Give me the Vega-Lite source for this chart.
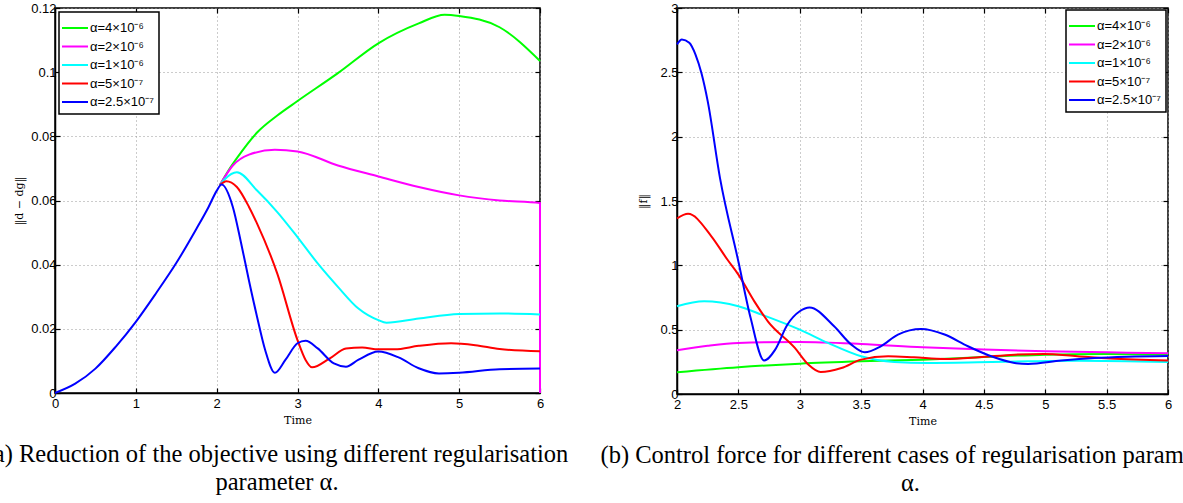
{
  "$schema": "https://vega.github.io/schema/vega-lite/v6.json",
  "background": "white",
  "padding": {"left": -16, "top": 1, "right": 0, "bottom": 0},
  "bounds": "flush",
  "spacing": 137,
  "config": {
    "view": {"stroke": "black", "strokeWidth": 1.5},
    "axis": {
      "domainColor": "black", "domainWidth": 1.5,
      "tickColor": "black", "tickSize": -5, "tickWidth": 1.2,
      "labelFont": "Liberation Sans", "labelFontSize": 13, "labelColor": "black", "labelPadding": 4, "labelFlush": false,
      "gridColor": "#999999", "gridDash": [1, 3], "gridOpacity": 1, "gridWidth": 1,
      "titleFont": "DejaVu Serif", "titleFontWeight": "normal", "titleFontSize": 11, "titleColor": "black", "titlePadding": 6
    },
    "axisX": {"labelPadding": 9, "titlePadding": 4},
    "legend": {
      "title": null, "strokeColor": "black", "strokeWidth": 1.5, "fillColor": "white", "padding": 5,
      "symbolType": "M-1.3,0L1.3,0", "symbolSize": 400, "symbolStrokeWidth": 2,
      "labelFont": "Liberation Sans", "labelFontSize": 13, "labelColor": "black", "rowPadding": 0.5, "labelOffset": 4
    },
    "title": {"font": "Liberation Serif", "fontSize": 24.5, "fontWeight": "normal", "color": "black", "lineHeight": 28, "baseline": "top"}
  },
  "datasets": {
    "a": [
      {"s": "α=4×10⁻⁶", "t": 2.04, "v": 0.0648},
      {"s": "α=4×10⁻⁶", "t": 2.15, "v": 0.0695},
      {"s": "α=4×10⁻⁶", "t": 2.25, "v": 0.0732},
      {"s": "α=4×10⁻⁶", "t": 2.5, "v": 0.0812},
      {"s": "α=4×10⁻⁶", "t": 2.75, "v": 0.0865},
      {"s": "α=4×10⁻⁶", "t": 3.0, "v": 0.0910},
      {"s": "α=4×10⁻⁶", "t": 3.5, "v": 0.0997},
      {"s": "α=4×10⁻⁶", "t": 4.0, "v": 0.1090},
      {"s": "α=4×10⁻⁶", "t": 4.5, "v": 0.1152},
      {"s": "α=4×10⁻⁶", "t": 4.82, "v": 0.1179},
      {"s": "α=4×10⁻⁶", "t": 5.0, "v": 0.1175},
      {"s": "α=4×10⁻⁶", "t": 5.5, "v": 0.1140},
      {"s": "α=4×10⁻⁶", "t": 6.0, "v": 0.1035},
      {"s": "α=2×10⁻⁶", "t": 2.04, "v": 0.0648},
      {"s": "α=2×10⁻⁶", "t": 2.2, "v": 0.0709},
      {"s": "α=2×10⁻⁶", "t": 2.4, "v": 0.0743},
      {"s": "α=2×10⁻⁶", "t": 2.72, "v": 0.0758},
      {"s": "α=2×10⁻⁶", "t": 3.0, "v": 0.0753},
      {"s": "α=2×10⁻⁶", "t": 3.5, "v": 0.0709},
      {"s": "α=2×10⁻⁶", "t": 4.0, "v": 0.0675},
      {"s": "α=2×10⁻⁶", "t": 4.5, "v": 0.0642},
      {"s": "α=2×10⁻⁶", "t": 5.0, "v": 0.0616},
      {"s": "α=2×10⁻⁶", "t": 5.5, "v": 0.0600},
      {"s": "α=2×10⁻⁶", "t": 6.0, "v": 0.0592},
      {"s": "α=2×10⁻⁶", "t": 6.0, "v": 0},
      {"s": "α=1×10⁻⁶", "t": 2.04, "v": 0.0648},
      {"s": "α=1×10⁻⁶", "t": 2.1, "v": 0.0666},
      {"s": "α=1×10⁻⁶", "t": 2.25, "v": 0.0688},
      {"s": "α=1×10⁻⁶", "t": 2.5, "v": 0.0631},
      {"s": "α=1×10⁻⁶", "t": 2.75, "v": 0.0564},
      {"s": "α=1×10⁻⁶", "t": 3.0, "v": 0.0486},
      {"s": "α=1×10⁻⁶", "t": 3.25, "v": 0.0404},
      {"s": "α=1×10⁻⁶", "t": 3.5, "v": 0.0331},
      {"s": "α=1×10⁻⁶", "t": 3.75, "v": 0.0264},
      {"s": "α=1×10⁻⁶", "t": 4.0, "v": 0.0227},
      {"s": "α=1×10⁻⁶", "t": 4.1, "v": 0.0219},
      {"s": "α=1×10⁻⁶", "t": 4.5, "v": 0.0232},
      {"s": "α=1×10⁻⁶", "t": 5.0, "v": 0.0246},
      {"s": "α=1×10⁻⁶", "t": 5.5, "v": 0.0248},
      {"s": "α=1×10⁻⁶", "t": 6.0, "v": 0.0245},
      {"s": "α=5×10⁻⁷", "t": 2.04, "v": 0.0648},
      {"s": "α=5×10⁻⁷", "t": 2.12, "v": 0.0660},
      {"s": "α=5×10⁻⁷", "t": 2.25, "v": 0.0642},
      {"s": "α=5×10⁻⁷", "t": 2.4, "v": 0.0580},
      {"s": "α=5×10⁻⁷", "t": 2.5, "v": 0.0528},
      {"s": "α=5×10⁻⁷", "t": 2.75, "v": 0.0372},
      {"s": "α=5×10⁻⁷", "t": 3.0, "v": 0.0165},
      {"s": "α=5×10⁻⁷", "t": 3.1, "v": 0.0103},
      {"s": "α=5×10⁻⁷", "t": 3.18, "v": 0.0080},
      {"s": "α=5×10⁻⁷", "t": 3.4, "v": 0.0108},
      {"s": "α=5×10⁻⁷", "t": 3.6, "v": 0.0139},
      {"s": "α=5×10⁻⁷", "t": 3.8, "v": 0.0142},
      {"s": "α=5×10⁻⁷", "t": 4.0, "v": 0.0136},
      {"s": "α=5×10⁻⁷", "t": 4.2, "v": 0.0136},
      {"s": "α=5×10⁻⁷", "t": 4.5, "v": 0.0147},
      {"s": "α=5×10⁻⁷", "t": 4.9, "v": 0.0155},
      {"s": "α=5×10⁻⁷", "t": 5.2, "v": 0.0149},
      {"s": "α=5×10⁻⁷", "t": 5.5, "v": 0.0137},
      {"s": "α=5×10⁻⁷", "t": 6.0, "v": 0.0130},
      {"s": "α=2.5×10⁻⁷", "t": 0.0, "v": 0.0},
      {"s": "α=2.5×10⁻⁷", "t": 0.25, "v": 0.0029},
      {"s": "α=2.5×10⁻⁷", "t": 0.5, "v": 0.0076},
      {"s": "α=2.5×10⁻⁷", "t": 0.75, "v": 0.0144},
      {"s": "α=2.5×10⁻⁷", "t": 1.0, "v": 0.0222},
      {"s": "α=2.5×10⁻⁷", "t": 1.25, "v": 0.0311},
      {"s": "α=2.5×10⁻⁷", "t": 1.5, "v": 0.0405},
      {"s": "α=2.5×10⁻⁷", "t": 1.75, "v": 0.0512},
      {"s": "α=2.5×10⁻⁷", "t": 1.9, "v": 0.0580},
      {"s": "α=2.5×10⁻⁷", "t": 2.0, "v": 0.0630},
      {"s": "α=2.5×10⁻⁷", "t": 2.06, "v": 0.0650},
      {"s": "α=2.5×10⁻⁷", "t": 2.2, "v": 0.0580},
      {"s": "α=2.5×10⁻⁷", "t": 2.3, "v": 0.0470},
      {"s": "α=2.5×10⁻⁷", "t": 2.4, "v": 0.0350},
      {"s": "α=2.5×10⁻⁷", "t": 2.5, "v": 0.0237},
      {"s": "α=2.5×10⁻⁷", "t": 2.6, "v": 0.0134},
      {"s": "α=2.5×10⁻⁷", "t": 2.72, "v": 0.0063},
      {"s": "α=2.5×10⁻⁷", "t": 2.85, "v": 0.0103},
      {"s": "α=2.5×10⁻⁷", "t": 3.0, "v": 0.0155},
      {"s": "α=2.5×10⁻⁷", "t": 3.1, "v": 0.0163},
      {"s": "α=2.5×10⁻⁷", "t": 3.25, "v": 0.0139},
      {"s": "α=2.5×10⁻⁷", "t": 3.45, "v": 0.0092},
      {"s": "α=2.5×10⁻⁷", "t": 3.6, "v": 0.0082},
      {"s": "α=2.5×10⁻⁷", "t": 3.75, "v": 0.0103},
      {"s": "α=2.5×10⁻⁷", "t": 4.0, "v": 0.0129},
      {"s": "α=2.5×10⁻⁷", "t": 4.25, "v": 0.0111},
      {"s": "α=2.5×10⁻⁷", "t": 4.5, "v": 0.0077},
      {"s": "α=2.5×10⁻⁷", "t": 4.75, "v": 0.0061},
      {"s": "α=2.5×10⁻⁷", "t": 5.0, "v": 0.0063},
      {"s": "α=2.5×10⁻⁷", "t": 5.5, "v": 0.0074},
      {"s": "α=2.5×10⁻⁷", "t": 6.0, "v": 0.0076}
    ],
    "b": [
      {"s": "α=4×10⁻⁶", "t": 2.0, "v": 0.169},
      {"s": "α=4×10⁻⁶", "t": 2.5, "v": 0.208},
      {"s": "α=4×10⁻⁶", "t": 3.0, "v": 0.236},
      {"s": "α=4×10⁻⁶", "t": 3.5, "v": 0.254},
      {"s": "α=4×10⁻⁶", "t": 4.0, "v": 0.267},
      {"s": "α=4×10⁻⁶", "t": 4.5, "v": 0.288},
      {"s": "α=4×10⁻⁶", "t": 5.0, "v": 0.306},
      {"s": "α=4×10⁻⁶", "t": 5.5, "v": 0.311},
      {"s": "α=4×10⁻⁶", "t": 6.0, "v": 0.306},
      {"s": "α=2×10⁻⁶", "t": 2.0, "v": 0.340},
      {"s": "α=2×10⁻⁶", "t": 2.25, "v": 0.375},
      {"s": "α=2×10⁻⁶", "t": 2.5, "v": 0.397},
      {"s": "α=2×10⁻⁶", "t": 3.0, "v": 0.404},
      {"s": "α=2×10⁻⁶", "t": 3.5, "v": 0.389},
      {"s": "α=2×10⁻⁶", "t": 4.0, "v": 0.363},
      {"s": "α=2×10⁻⁶", "t": 4.5, "v": 0.345},
      {"s": "α=2×10⁻⁶", "t": 5.0, "v": 0.332},
      {"s": "α=2×10⁻⁶", "t": 5.5, "v": 0.324},
      {"s": "α=2×10⁻⁶", "t": 6.0, "v": 0.317},
      {"s": "α=1×10⁻⁶", "t": 2.0, "v": 0.682},
      {"s": "α=1×10⁻⁶", "t": 2.22, "v": 0.721},
      {"s": "α=1×10⁻⁶", "t": 2.5, "v": 0.682},
      {"s": "α=1×10⁻⁶", "t": 2.69, "v": 0.617},
      {"s": "α=1×10⁻⁶", "t": 3.0, "v": 0.500},
      {"s": "α=1×10⁻⁶", "t": 3.23, "v": 0.397},
      {"s": "α=1×10⁻⁶", "t": 3.5, "v": 0.293},
      {"s": "α=1×10⁻⁶", "t": 3.77, "v": 0.249},
      {"s": "α=1×10⁻⁶", "t": 4.04, "v": 0.241},
      {"s": "α=1×10⁻⁶", "t": 4.45, "v": 0.246},
      {"s": "α=1×10⁻⁶", "t": 4.86, "v": 0.254},
      {"s": "α=1×10⁻⁶", "t": 5.26, "v": 0.259},
      {"s": "α=1×10⁻⁶", "t": 6.0, "v": 0.249},
      {"s": "α=5×10⁻⁷", "t": 2.0, "v": 1.364},
      {"s": "α=5×10⁻⁷", "t": 2.09, "v": 1.400},
      {"s": "α=5×10⁻⁷", "t": 2.28, "v": 1.226},
      {"s": "α=5×10⁻⁷", "t": 2.41, "v": 1.045},
      {"s": "α=5×10⁻⁷", "t": 2.5, "v": 0.928},
      {"s": "α=5×10⁻⁷", "t": 2.63, "v": 0.720},
      {"s": "α=5×10⁻⁷", "t": 2.74, "v": 0.565},
      {"s": "α=5×10⁻⁷", "t": 2.96, "v": 0.358},
      {"s": "α=5×10⁻⁷", "t": 3.07, "v": 0.229},
      {"s": "α=5×10⁻⁷", "t": 3.17, "v": 0.171},
      {"s": "α=5×10⁻⁷", "t": 3.34, "v": 0.202},
      {"s": "α=5×10⁻⁷", "t": 3.5, "v": 0.267},
      {"s": "α=5×10⁻⁷", "t": 3.72, "v": 0.293},
      {"s": "α=5×10⁻⁷", "t": 3.93, "v": 0.285},
      {"s": "α=5×10⁻⁷", "t": 4.18, "v": 0.272},
      {"s": "α=5×10⁻⁷", "t": 4.46, "v": 0.285},
      {"s": "α=5×10⁻⁷", "t": 4.75, "v": 0.306},
      {"s": "α=5×10⁻⁷", "t": 4.99, "v": 0.311},
      {"s": "α=5×10⁻⁷", "t": 5.26, "v": 0.293},
      {"s": "α=5×10⁻⁷", "t": 5.53, "v": 0.275},
      {"s": "α=5×10⁻⁷", "t": 6.0, "v": 0.260},
      {"s": "α=2.5×10⁻⁷", "t": 2.0, "v": 2.717},
      {"s": "α=2.5×10⁻⁷", "t": 2.04, "v": 2.756},
      {"s": "α=2.5×10⁻⁷", "t": 2.1, "v": 2.730},
      {"s": "α=2.5×10⁻⁷", "t": 2.15, "v": 2.640},
      {"s": "α=2.5×10⁻⁷", "t": 2.2, "v": 2.490},
      {"s": "α=2.5×10⁻⁷", "t": 2.25, "v": 2.276},
      {"s": "α=2.5×10⁻⁷", "t": 2.35, "v": 1.680},
      {"s": "α=2.5×10⁻⁷", "t": 2.5, "v": 1.030},
      {"s": "α=2.5×10⁻⁷", "t": 2.6, "v": 0.590},
      {"s": "α=2.5×10⁻⁷", "t": 2.71, "v": 0.260},
      {"s": "α=2.5×10⁻⁷", "t": 2.8, "v": 0.345},
      {"s": "α=2.5×10⁻⁷", "t": 2.9, "v": 0.540},
      {"s": "α=2.5×10⁻⁷", "t": 3.0, "v": 0.643},
      {"s": "α=2.5×10⁻⁷", "t": 3.08, "v": 0.672},
      {"s": "α=2.5×10⁻⁷", "t": 3.28, "v": 0.526},
      {"s": "α=2.5×10⁻⁷", "t": 3.42, "v": 0.384},
      {"s": "α=2.5×10⁻⁷", "t": 3.53, "v": 0.324},
      {"s": "α=2.5×10⁻⁷", "t": 3.66, "v": 0.371},
      {"s": "α=2.5×10⁻⁷", "t": 3.8, "v": 0.462},
      {"s": "α=2.5×10⁻⁷", "t": 3.99, "v": 0.505},
      {"s": "α=2.5×10⁻⁷", "t": 4.18, "v": 0.462},
      {"s": "α=2.5×10⁻⁷", "t": 4.37, "v": 0.371},
      {"s": "α=2.5×10⁻⁷", "t": 4.56, "v": 0.293},
      {"s": "α=2.5×10⁻⁷", "t": 4.75, "v": 0.241},
      {"s": "α=2.5×10⁻⁷", "t": 4.86, "v": 0.233},
      {"s": "α=2.5×10⁻⁷", "t": 5.13, "v": 0.260},
      {"s": "α=2.5×10⁻⁷", "t": 5.4, "v": 0.280},
      {"s": "α=2.5×10⁻⁷", "t": 5.67, "v": 0.290},
      {"s": "α=2.5×10⁻⁷", "t": 6.0, "v": 0.295}
    ]
  },
  "resolve": {"scale": {"color": "independent"}, "legend": {"color": "independent"}},
  "hconcat": [
    {
      "width": 485,
      "height": 385,
      "data": {"name": "a"},
      "title": {
        "text": ["(a) Reduction of the objective using different regularisation", "parameter α."],
        "orient": "bottom", "anchor": "middle", "frame": "group", "dx": -20.5, "offset": 18
      },
      "layer": [
        {
          "mark": {"type": "line", "strokeWidth": 2, "interpolate": "monotone"},
          "encoding": {
            "x": {"field": "t", "type": "quantitative", "scale": {"domain": [0, 6], "nice": false},
                  "axis": {"orient": "bottom", "values": [0, 1, 2, 3, 4, 5, 6], "format": ".3~g", "title": "Time", "grid": true}},
            "y": {"field": "v", "type": "quantitative", "scale": {"domain": [0, 0.12], "nice": false, "zero": false},
                  "axis": {"orient": "left", "values": [0, 0.02, 0.04, 0.06, 0.08, 0.1, 0.12], "format": ".3~g", "title": "‖d − dg‖", "grid": true}},
            "color": {"field": "s", "type": "nominal",
                      "scale": {"domain": ["α=4×10⁻⁶", "α=2×10⁻⁶", "α=1×10⁻⁶", "α=5×10⁻⁷", "α=2.5×10⁻⁷"], "range": ["#00ff00", "#ff00ff", "#00ffff", "#ff0000", "#0000ff"]},
                      "legend": {"orient": "top-left", "offset": 4}}
          }
        },
        {
          "mark": {"type": "point", "opacity": 0},
          "encoding": {
            "x": {"field": "t", "type": "quantitative",
                  "axis": {"orient": "top", "values": [0, 1, 2, 3, 4, 5, 6], "labels": false, "grid": false, "domain": false, "title": null}},
            "y": {"field": "v", "type": "quantitative",
                  "axis": {"orient": "right", "values": [0, 0.02, 0.04, 0.06, 0.08, 0.1, 0.12], "labels": false, "grid": false, "domain": false, "title": null}}
          }
        }
      ]
    },
    {
      "width": 491,
      "height": 386,
      "data": {"name": "b"},
      "title": {
        "text": ["(b) Control force for different cases of regularisation parameter", "α."],
        "orient": "bottom", "anchor": "middle", "frame": "group", "dx": -12, "offset": 18
      },
      "layer": [
        {
          "mark": {"type": "line", "strokeWidth": 2, "interpolate": "monotone"},
          "encoding": {
            "x": {"field": "t", "type": "quantitative", "scale": {"domain": [2, 6], "nice": false, "zero": false},
                  "axis": {"orient": "bottom", "values": [2, 2.5, 3, 3.5, 4, 4.5, 5, 5.5, 6], "format": ".3~g", "title": "Time", "grid": true}},
            "y": {"field": "v", "type": "quantitative", "scale": {"domain": [0, 3], "nice": false},
                  "axis": {"orient": "left", "values": [0, 0.5, 1, 1.5, 2, 2.5, 3], "format": ".3~g", "title": "‖f‖", "titlePadding": 11, "grid": true}},
            "color": {"field": "s", "type": "nominal",
                      "scale": {"domain": ["α=4×10⁻⁶", "α=2×10⁻⁶", "α=1×10⁻⁶", "α=5×10⁻⁷", "α=2.5×10⁻⁷"], "range": ["#00ff00", "#ff00ff", "#00ffff", "#ff0000", "#0000ff"]},
                      "legend": {"orient": "top-right", "offset": 2}}
          }
        },
        {
          "mark": {"type": "point", "opacity": 0},
          "encoding": {
            "x": {"field": "t", "type": "quantitative",
                  "axis": {"orient": "top", "values": [2, 2.5, 3, 3.5, 4, 4.5, 5, 5.5, 6], "labels": false, "grid": false, "domain": false, "title": null}},
            "y": {"field": "v", "type": "quantitative",
                  "axis": {"orient": "right", "values": [0, 0.5, 1, 1.5, 2, 2.5, 3], "labels": false, "grid": false, "domain": false, "title": null}}
          }
        }
      ]
    }
  ]
}
